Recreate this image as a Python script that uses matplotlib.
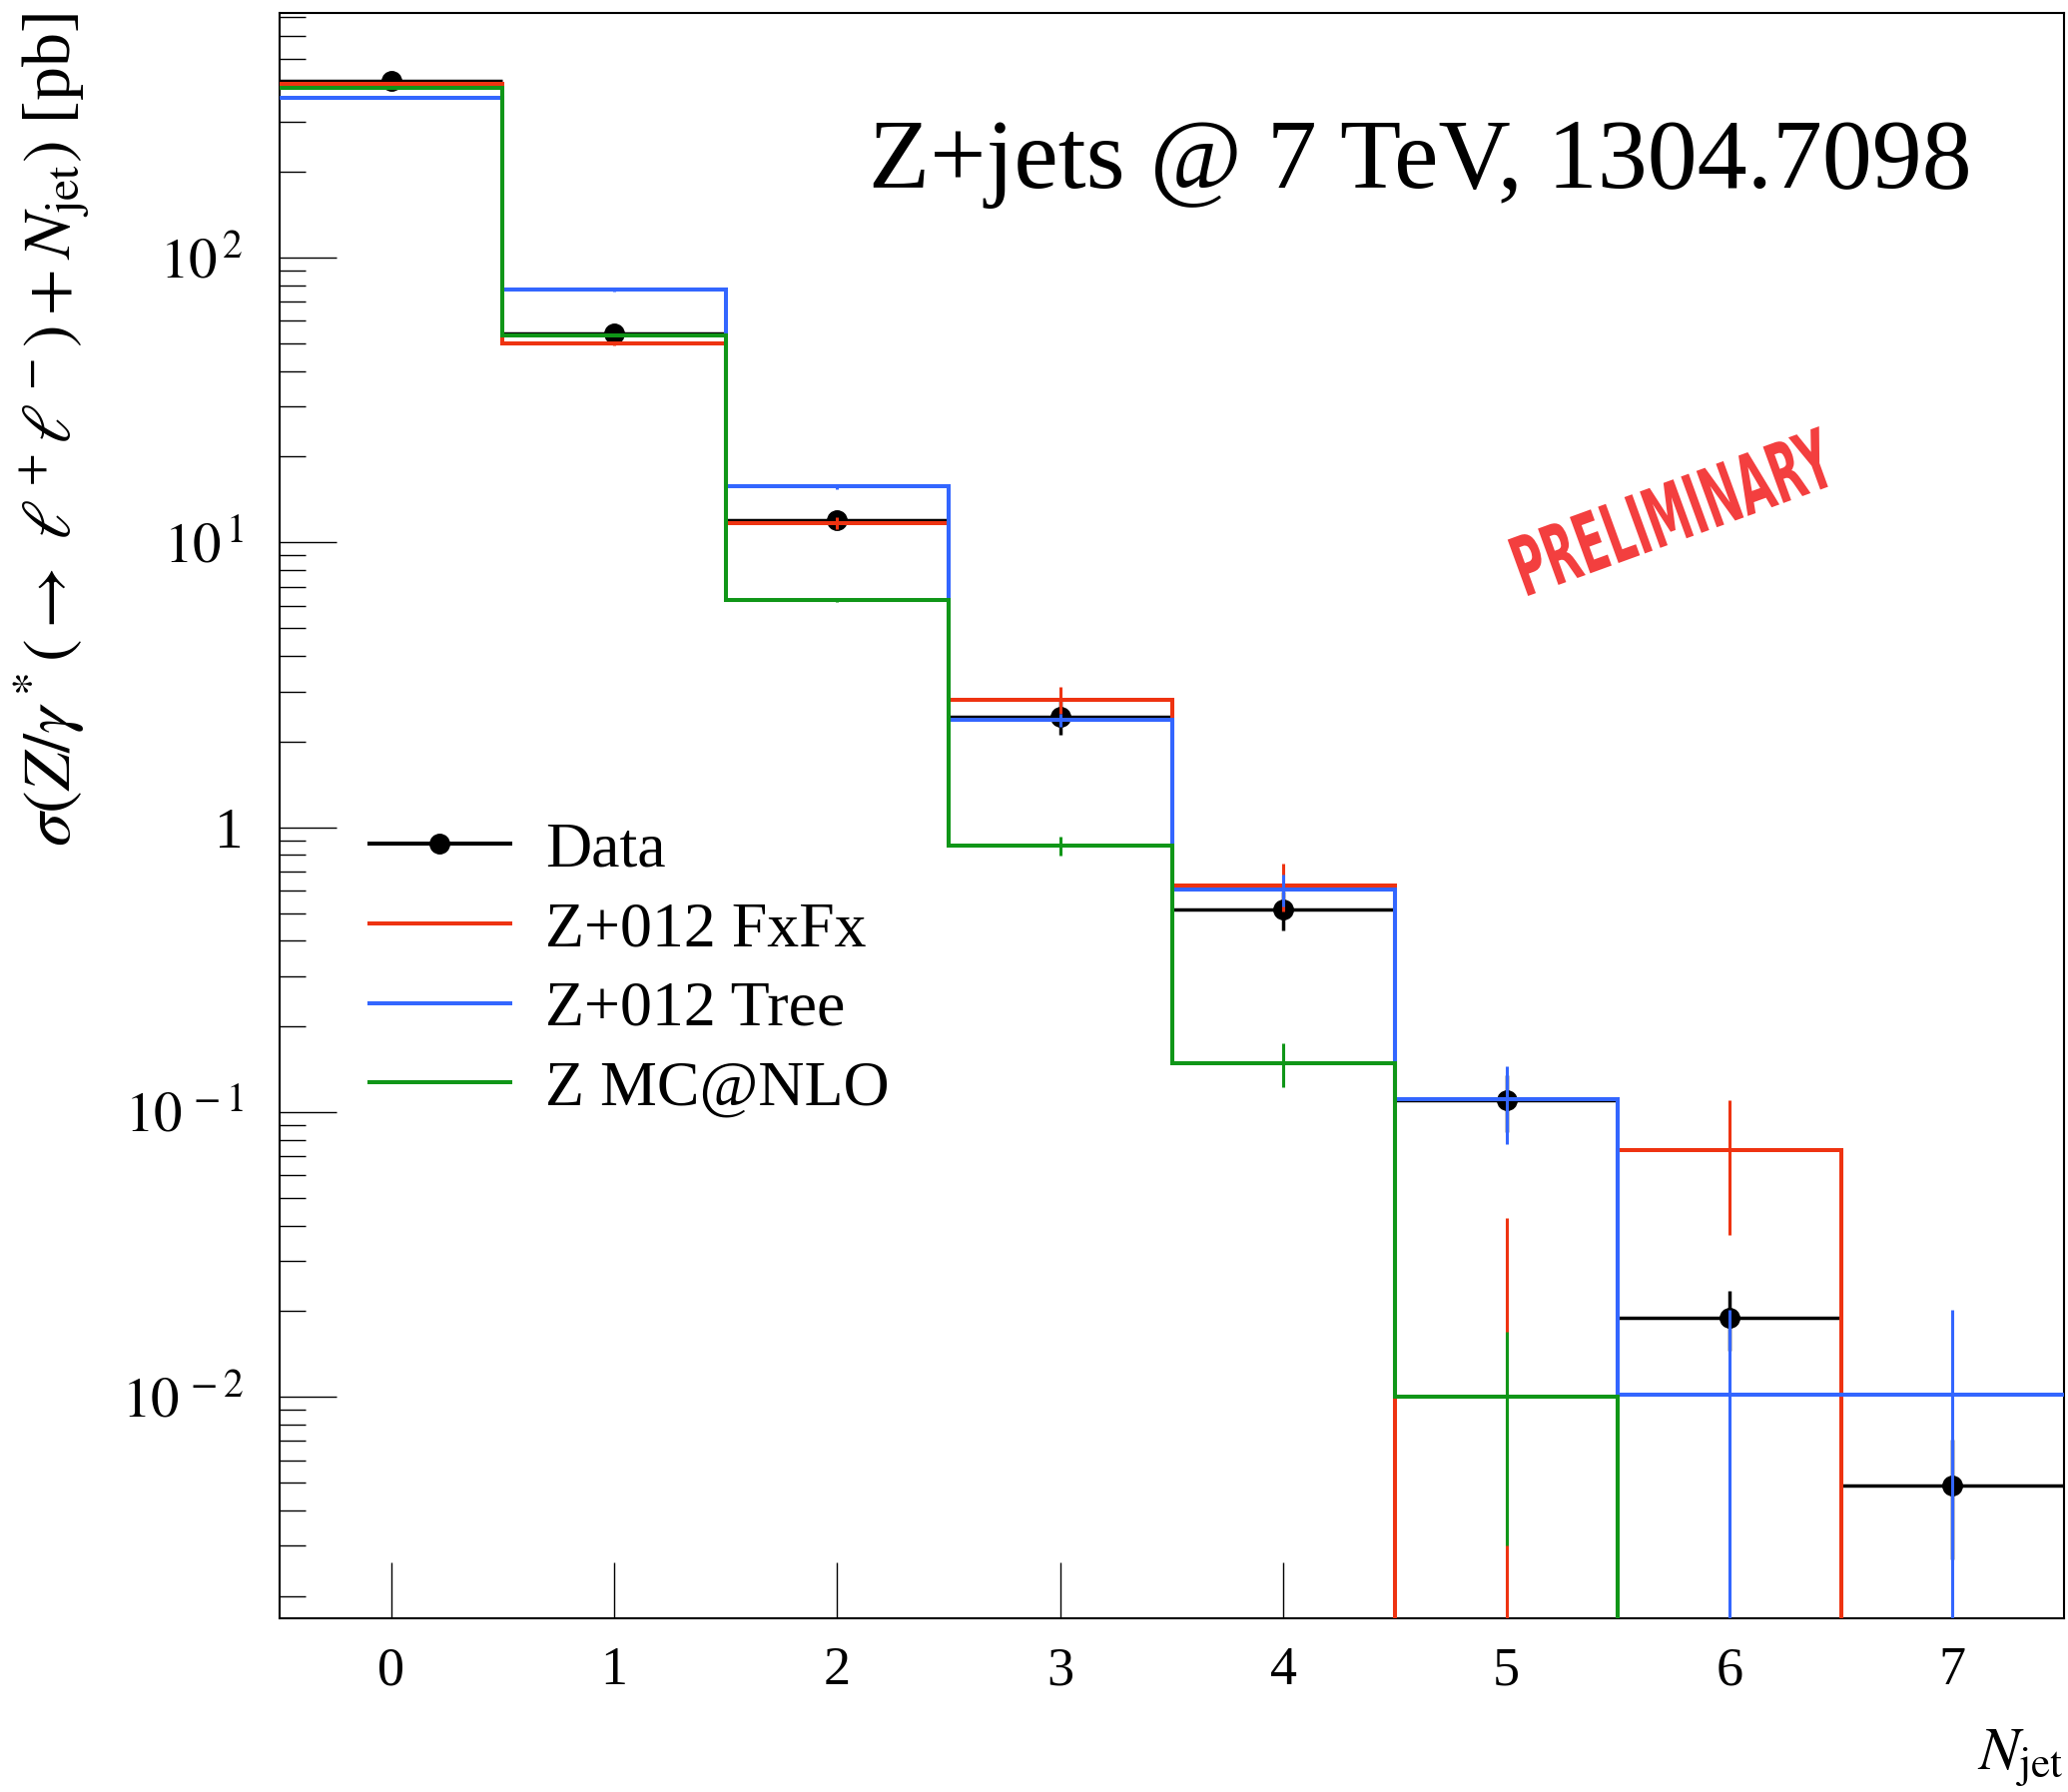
import numpy as np
import matplotlib
matplotlib.use("Agg")
import matplotlib.pyplot as plt
import matplotlib.ticker as ticker
from matplotlib.lines import Line2D
from matplotlib.textpath import TextPath
from matplotlib.patches import PathPatch
from matplotlib.font_manager import FontProperties
from matplotlib.transforms import Affine2D

plt.rcParams["font.family"] = ["Liberation Serif", "DejaVu Serif"]
plt.rcParams["mathtext.fontset"] = "stix"

# exclusive jet multiplicity bins
n_jet = np.arange(8)
edges = np.arange(-0.5, 8.0, 1.0)

# measured cross sections [pb]
data = [417.0, 54.2, 12.0, 2.44, 0.514, 0.110, 0.0190, 0.00490]
data_err = [8.0, 1.5, 0.5, 0.33, 0.08, 0.025, 0.0045, 0.0022]

# Z+012 FxFx
fxfx = [408.0, 50.1, 11.7, 2.80, 0.625, 0.0, 0.0735, 0.0]
fxfx_err = [3.0, 0.8, 0.6, 0.30, 0.12, 0.0425, 0.0365, 0.0]

# Z+012 Tree
tree = [365.0, 77.0, 15.7, 2.38, 0.605, 0.111, 0.0102, 0.0102]
tree_err = [2.0, 1.0, 0.3, 0.12, 0.079, 0.034, 0.0101, 0.0101]

# Z MC@NLO
mcnlo = [396.0, 53.4, 6.27, 0.862, 0.148, 0.0100, 0.0, 0.0]
mcnlo_err = [1.0, 0.3, 0.1, 0.064, 0.026, 0.007, 0.0, 0.0]

mc_labels = ["Z+012 FxFx", "Z+012 Tree", "Z MC@NLO"]
mc_colors = ["#EE3311", "#3366FF", "#109618"]

fig = plt.figure(figsize=(20.71, 17.95), dpi=100)
ax = fig.add_axes([0.1352, 0.0969, 0.8629, 0.8958])
ax.set_yscale("log", nonpositive="clip")

# data points with bin-width bars
ax.errorbar(n_jet, data, xerr=0.5, yerr=data_err, fmt="o", color="k",
            ms=14, elinewidth=2.5, capsize=0, zorder=2)

# MC histograms with their stat. errors
for i, (vals, errs) in enumerate([(fxfx, fxfx_err), (tree, tree_err), (mcnlo, mcnlo_err)]):
    c = mc_colors[i]
    ax.stairs(vals, edges, baseline=None, color=c, lw=2.9, zorder=3 + i)
    ax.errorbar(n_jet, vals, yerr=errs, fmt="none", ecolor=c,
                elinewidth=2.2, capsize=0, zorder=3 + i)

ax.set_xlim(-0.5, 7.5)
ax.set_ylim(1.67e-3, 722)

ax.set_xticks(n_jet)
ax.xaxis.set_minor_locator(ticker.NullLocator())
ax.yaxis.set_major_locator(ticker.LogLocator(base=10, numticks=20))
ax.yaxis.set_minor_locator(ticker.LogLocator(base=10, subs=np.arange(2, 10), numticks=20))


def ylab(v, pos):
    e = int(round(np.log10(v)))
    if e == 0:
        return "1"
    return r"$10^{\,%d}$" % e


ax.yaxis.set_major_formatter(ticker.FuncFormatter(ylab))
ax.yaxis.set_minor_formatter(ticker.NullFormatter())

ax.tick_params(axis="both", which="both", direction="in", top=False, right=False)
ax.tick_params(axis="y", which="major", length=41, width=1.0, labelsize=41, pad=26)
ax.tick_params(axis="y", which="minor", length=18.5, width=1.0)
ax.tick_params(axis="x", which="major", length=40, width=1.0, labelsize=39, pad=20)
for s in ax.spines.values():
    s.set_linewidth(1.5)

ax.set_ylabel(r"$\sigma(Z/\gamma^*(\rightarrow\ \ell^+\ell^-) + N_{\mathrm{jet}})$ [pb]",
              fontsize=49, loc="top")
ax.yaxis.set_label_coords(-0.105, 1.0)
ax.set_xlabel(r"$N_{\mathrm{jet}}$", fontsize=44, loc="right")
ax.xaxis.set_label_coords(1.0, -0.068)

ax.text(0.9485, 0.891, "Z+jets @ 7 TeV, 1304.7098", transform=ax.transAxes,
        ha="right", va="baseline", fontsize=72)

handles = [Line2D([], [], color="k", marker="o", ms=14, lw=2.9)]
handles += [Line2D([], [], color=c, lw=2.9) for c in mc_colors]
ax.legend(handles, ["Data"] + mc_labels, loc="upper left",
          bbox_to_anchor=(0.0504, 0.4966), frameon=False, fontsize=46,
          handlelength=2.2, handletextpad=0.55, labelspacing=0.33,
          borderpad=0, borderaxespad=0)

# red stamp across the upper right
fp = FontProperties(family="DejaVu Sans", weight="bold")
tp = TextPath((0, 0), "PRELIMINARY", size=100, prop=fp)
bb = tp.get_extents()
stamp_tr = (Affine2D()
            .translate(-bb.x0 - bb.width / 2, -bb.y0 - bb.height / 2)
            .scale(332 / bb.width, 60 / bb.height)
            .rotate_deg(20)
            .translate(1676, 1795 - 512))
fig.add_artist(PathPatch(tp, transform=stamp_tr, facecolor="#F21D1D",
                         edgecolor="none", alpha=0.85))

fig.savefig("out.png", dpi=100)
